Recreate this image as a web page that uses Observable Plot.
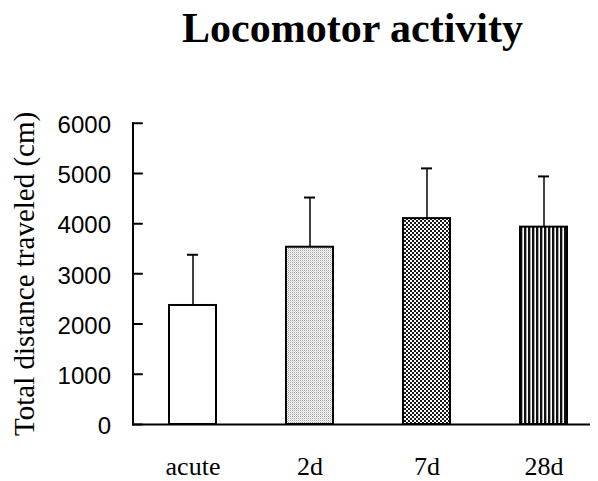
<!DOCTYPE html>
<html><head><meta charset="utf-8">
<script src="https://cdn.jsdelivr.net/npm/d3@7"></script>
<script src="https://cdn.jsdelivr.net/npm/@observablehq/plot@0.6"></script>
<style>
body{margin:0;background:#fff;}
#wrap{width:598px;height:481px;position:relative;overflow:hidden;background:#fff;}
#title{box-sizing:border-box;height:60px;padding-top:4px;padding-left:107px;width:598px;text-align:center;font:bold 42px/48px "Liberation Serif","Times New Roman",serif;color:#000;}
#chart svg{display:block;}
</style></head><body>
<div id="wrap"><div id="title">Locomotor activity</div><div id="chart"></div></div>
<script>
const groups = ["acute", "2d", "7d", "28d"];
const means = [2370, 3530, 4100, 3930];
const sds = [1010, 990, 1000, 1010];
const yTicks = [0, 1000, 2000, 3000, 4000, 5000, 6000];
const yLabel = "Total distance traveled (cm)";

const fills = {"acute": "white", "2d": "url(#p2d)", "7d": "url(#p7d)", "28d": "url(#p28d)"};
const rows = groups.map((g, i) => ({group: g, mean: means[i], sd: sds[i]}));
const tickShape = {draw(context, l) { context.moveTo(0, 0); context.lineTo(0, -l); }};

const chart = Plot.plot({
  width: 598, height: 421,
  marginLeft: 132.5, marginRight: 8, marginTop: 62.7, marginBottom: 57,
  style: {fontFamily: '"Liberation Serif", "Times New Roman", serif', background: "white", color: "black", overflow: "visible"},
  x: {type: "band", domain: groups, range: [132.5, 603.3], paddingInner: 0.6, paddingOuter: 0.3, label: null},
  y: {domain: [0, 6000], label: null},
  color: {type: "identity"},
  marks: [
    Plot.ruleX(rows, {x: "group", y1: "mean", y2: d => d.mean + d.sd, stroke: "black", strokeWidth: 1.5}),
    Plot.tickY(rows, {x: "group", y: d => d.mean + d.sd, stroke: "black", strokeWidth: 2, insetLeft: 18, insetRight: 18}),
    Plot.barY(rows, {x: "group", y: "mean", fill: d => fills[d.group], stroke: "black", strokeWidth: 2}),
    Plot.ruleY([0], {stroke: "black", strokeWidth: 2}),
    Plot.frame({anchor: "left", stroke: "black", strokeWidth: 2}),
    Plot.vector(yTicks, {y: d => d, frameAnchor: "left", length: 9, rotate: 90, anchor: "start", shape: tickShape, stroke: "black", strokeWidth: 2}),
    Plot.axisY(yTicks, {tickSize: 0, tickPadding: 22, fontSize: 24, dy: 2, tickFormat: d => String(d), label: null, fontFamily: '"Liberation Sans", Arial, sans-serif'}),
    Plot.axisX({tickSize: 0, tickPadding: 32, fontSize: 26, label: null}),
    Plot.text([yLabel], {frameAnchor: "left", textAnchor: "middle", rotate: -90, dx: -108.5, fontSize: 29, fill: "black"})
  ]
});

d3.select(chart).insert("defs", ":first-child").html(`
  <pattern id="p2d" patternUnits="userSpaceOnUse" width="2" height="2">
    <rect width="2" height="2" fill="#fff"/>
    <rect x="0" y="0" width="1" height="1" fill="#9a9a9a"/>
    <rect x="1" y="1" width="1" height="1" fill="#d4d4d4"/>
  </pattern>
  <pattern id="p7d" patternUnits="userSpaceOnUse" width="4" height="4">
    <rect width="4" height="4" fill="#fff"/>
    <rect x="0" y="0" width="2" height="2" fill="#1a1a1a"/>
    <rect x="2" y="2" width="2" height="2" fill="#1a1a1a"/>
  </pattern>
  <pattern id="p28d" patternUnits="userSpaceOnUse" width="4" height="4">
    <rect width="4" height="4" fill="#fff"/>
    <rect x="0" y="0" width="2" height="4" fill="#111"/>
    <rect x="2" y="0" width="1" height="4" fill="#aaa"/>
  </pattern>
`);

document.getElementById("chart").appendChild(chart);
</script>
</body></html>
